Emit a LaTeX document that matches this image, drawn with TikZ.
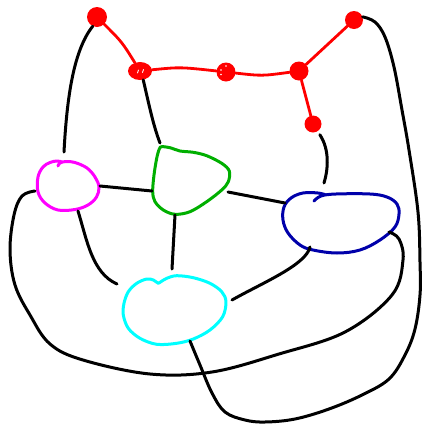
\documentclass[tikz,border=0pt]{standalone}
\usetikzlibrary{calc,shapes.geometric}
\definecolor{inkred}{RGB}{255,0,0}
\definecolor{inkmag}{RGB}{255,0,255}
\definecolor{inkgreen}{RGB}{0,175,0}
\definecolor{inkblue}{RGB}{0,0,170}
\definecolor{inkcyan}{RGB}{0,255,255}
\begin{document}
\begin{tikzpicture}[x=1pt,y=-1pt,line cap=round,line join=round,
  wire/.style={line width=3pt,black},
  redwire/.style={line width=2.8pt,inkred},
  blobline/.style={line width=3pt},
  dot/.style={circle,fill=inkred,inner sep=0pt,minimum size=#1},
  blobspot/.style={ellipse,inner sep=0pt,draw=none}]
\useasboundingbox (0,0) rectangle (424,424);

% red chain of dots
\node[dot=20pt] (r1) at (97,17) {};
\node[ellipse,fill=inkred,inner sep=0pt,minimum width=24pt,minimum height=18pt] (r2) at (140,71) {};
\node[dot=19pt] (r3) at (226,72) {};
\node[dot=19pt] (r4) at (299,71) {};
\node[dot=18pt] (r5) at (354,20) {};
\node[dot=17pt] (r6) at (313,124) {};
% scratches left by the pen inside two of the dots
\draw[white,line width=0.9pt] (138.5,70) -- (137.5,73) (143.5,69.5) -- (142.5,72.5);
\fill[white] (226,66) circle (0.8pt) (221,70) circle (0.8pt) (221,74.5) circle (0.8pt);

\draw[redwire] (r1) .. controls (122,42) .. (r2);
\draw[redwire] (r2) .. controls (180,67) .. (r3);
\draw[redwire] (r3) .. controls (262,76) .. (r4);
\draw[redwire] (r4) -- (r5);
\draw[redwire] (r4) -- (r6);

% blob positions
\node[blobspot,minimum width=62pt,minimum height=48pt] (mag) at (68,186) {};
\node[blobspot,minimum width=77pt,minimum height=67pt] (grn) at (191,181) {};
\node[blobspot,minimum width=117pt,minimum height=60pt] (blu) at (341,223) {};
\node[blobspot,minimum width=103pt,minimum height=69pt] (cyn) at (175,310) {};

% blob outlines
\draw[blobline,inkmag] plot[smooth,tension=0.6] coordinates {(58,166) (60,163) (66,161.5) (75,162.5) (87,168) (95,177) (99,187) (96.5,197) (88,205) (75,209.5) (58,210) (45,203) (38,192) (38,177) (43,167) (50,162.5) (57,161) (62,162)};
\draw[blobline,inkgreen] plot[smooth cycle,tension=0.55] coordinates {(161.7,146.7) (170,147.7) (180,151) (193.3,152.3) (206.7,155.7) (221.7,163.3) (229.3,171) (228.3,181.7) (221.7,190) (206.7,201.7) (190,211.7) (175,214.3) (163.3,210) (155,201.7) (152.7,191.7) (154,175) (156.7,158.3) (159.3,149)};
\draw[blobline,inkblue] plot[smooth,tension=0.6] coordinates {(314,201) (321,196) (336,194) (370,194) (387,197) (397,204) (399,214) (395,227) (380,240) (360,250) (337,253) (313,250) (300,245) (288,233) (283,220) (284,207) (291,198) (303,193) (318,193) (326,195)};
\draw[blobline,inkcyan] plot[smooth cycle,tension=0.55] coordinates {(158.3,283.3) (153.3,280) (146.7,279) (136.7,283.3) (128.3,291.7) (124,303.3) (123.3,315) (128.3,328.3) (140,338.3) (156.7,344.3) (176.7,343.3) (193.3,339) (210,330) (222.7,316.7) (226,301.7) (221.7,291.7) (210,283.3) (193.3,277.7) (176.7,275.7) (166.7,278.3) (160,282.3)};

% black connectors
\draw[wire] (r1.245) .. controls (74,50) and (67,95) .. ($(mag)+(-4,-34)$);
\draw[wire] (r2.290) .. controls (148,100) and (153,125) .. ($(grn)+(-31,-38)$);
\draw[wire] ($(mag)+(32,0)$) -- ($(grn)+(-39,10)$);
\draw[wire] ($(grn)+(37,11)$) -- ($(blu)+(-56,-20)$);
\draw[wire] ($(grn)+(-16,34)$) -- ($(cyn)+(-3,-41)$);
\draw[wire] ($(mag)+(10,25)$) .. controls (87,240) and (92,273) .. ($(cyn)+(-58,-26)$);
\draw[wire] ($(blu)+(-31,24)$) .. controls (306,265) and (262,283) .. ($(cyn)+(57,-10)$);
\draw[wire,shorten <=4pt] (r6.302) .. controls (330,150) and (328,170) .. ($(blu)+(-17,-40)$);
\draw[wire] plot[smooth,tension=0.6] coordinates {($(mag)+(-33,5)$) (22,196) (14,215) (10,250) (15,285) (30,315) (50,344) (83,360) (150,374) (212,372) (279,354) (345,332) (392,295) (403,260) (399,239) ($(blu)+(48,9)$)};
\draw[wire] plot[smooth,tension=0.6] coordinates {($(cyn)+(15,31)$) (200,365) (212,393) (225,412) (245,420) (265,422) (295,419) (329,409) (362,395) (389,379) (405,355) (415,329) (420,295) (420,262) (418,212) (409,150) (402,110) (394,67) (385,37) (375,22) (r5.20)};
\end{tikzpicture}
\end{document}
